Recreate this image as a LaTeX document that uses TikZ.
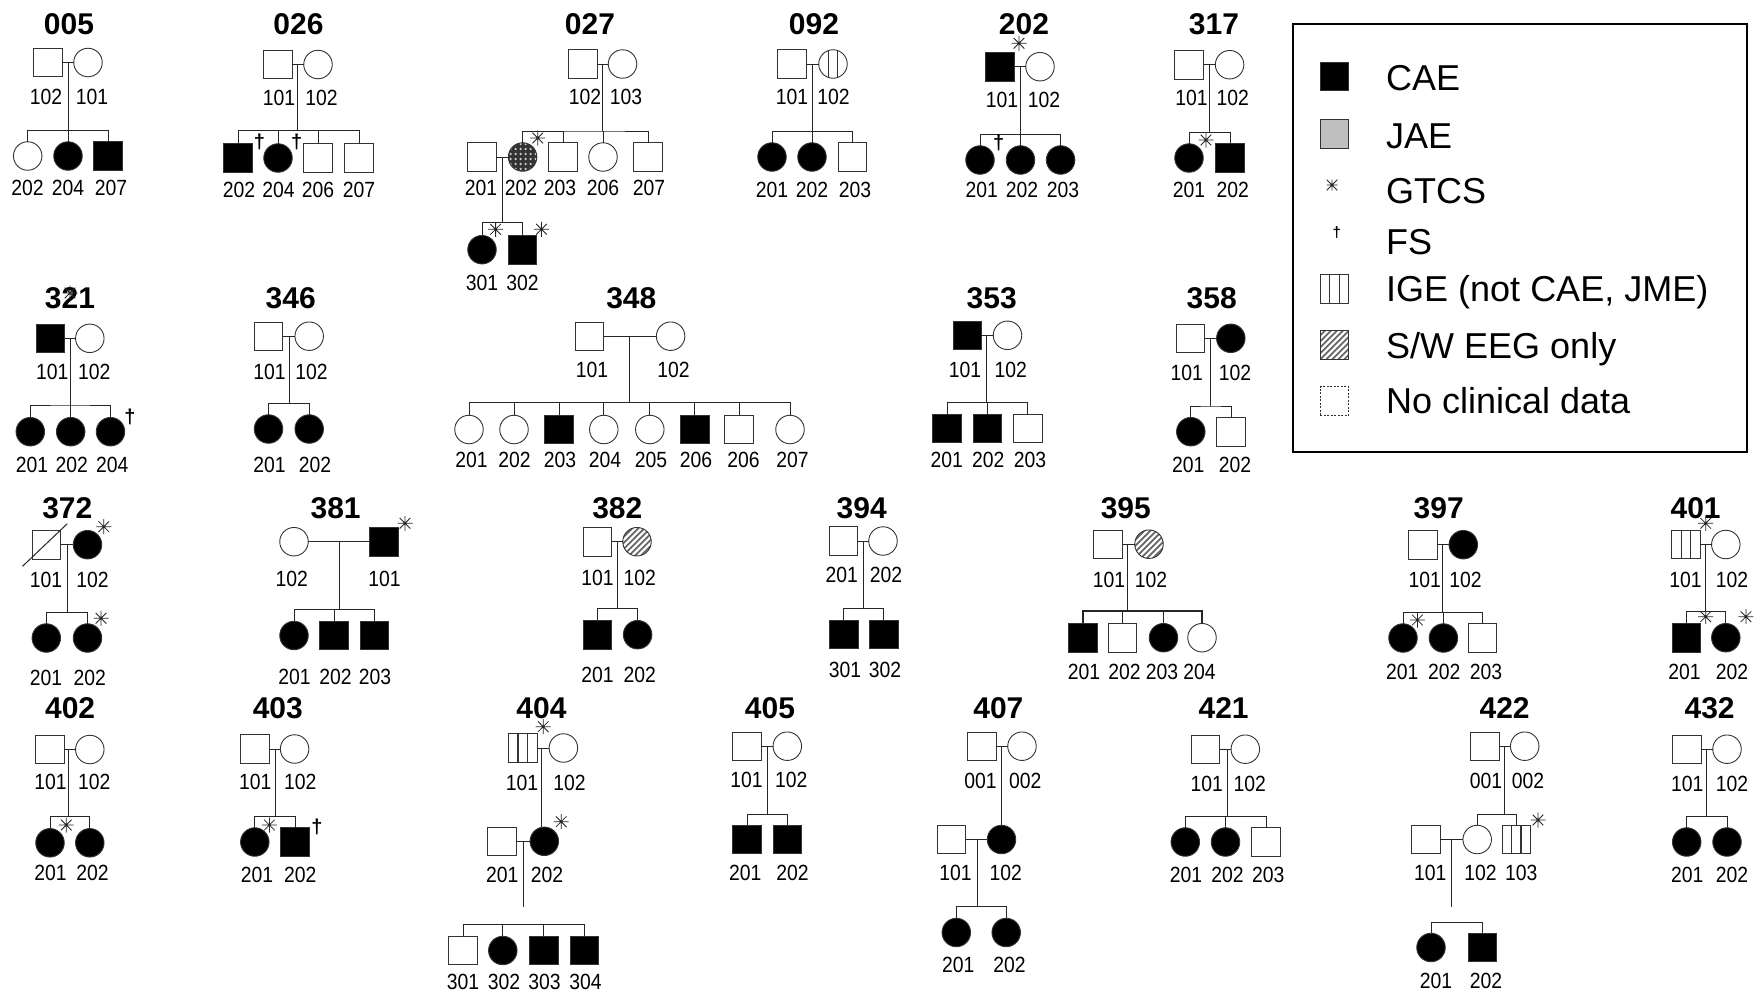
\documentclass[tikz,border=0pt]{standalone}
\usepackage{fontspec}
\setmainfont{Liberation Sans}
\newfontfamily\lblf{Liberation Sans}[FakeStretch=0.88]
\begin{document}
\newcounter{auto}
\tikzset{
 ind/.style={draw=black!80, line width=0.9pt, fill=white, inner sep=0pt, outer sep=0pt},
 sq/.style={ind, rectangle, minimum width=28.5pt, minimum height=28.5pt},
 ci/.style={ind, circle, minimum size=28.5pt},
 aff/.style={fill=black},
 ige/.style={path picture={\foreach \k in {-4.75,4.75}{\draw[line width=1.4pt] ([xshift=\k pt]path picture bounding box.north) -- ([xshift=\k pt]path picture bounding box.south);}}},
 sw/.style={path picture={\foreach \k in {-36,-30,...,36}{\draw[line width=1.8pt, black!60] ([xshift=\k pt]path picture bounding box.center) ++(-20pt,-20pt) -- ++(40pt,40pt);}}},
 dots/.style={fill=black!80, path picture={\foreach \i in {-12,-7,...,13}{\foreach \j in {-12,-7,...,13}{\fill[black!20] ([shift={(\i pt,\j pt)}]path picture bounding box.center) circle (1.3pt);}}}},
 lbl/.style={font=\lblf\fontsize{22}{22}\selectfont, inner sep=0pt},
 ttl/.style={font=\bfseries\fontsize{30}{30}\selectfont, inner sep=0pt},
 dag/.style={font=\bfseries\fontsize{20}{20}\selectfont, inner sep=0pt},
 ast/.style={inner sep=0pt, minimum size=15pt, path picture={\draw[line width=0.8pt, black!85] (path picture bounding box.north) -- (path picture bounding box.south) (path picture bounding box.west) -- (path picture bounding box.east) ([shift={(-5.3pt,-5.3pt)}]path picture bounding box.center) -- ([shift={(5.3pt,5.3pt)}]path picture bounding box.center) ([shift={(-5.3pt,5.3pt)}]path picture bounding box.center) -- ([shift={(5.3pt,-5.3pt)}]path picture bounding box.center);}},
 ln/.style={line width=1pt, draw=black!85},
 leg/.style={font=\fontsize{36}{36}\selectfont, inner sep=0pt, anchor=base west},
}
\newcommand\Tt[3]{\stepcounter{auto}\node[ttl] (t\arabic{auto}) at (#2,#3) {#1};}
\newcommand\Lb[3]{\stepcounter{auto}\node[lbl] (l\arabic{auto}) at (#1,#2) {#3};}
\newcommand\Ast[2]{\stepcounter{auto}\node[ast] (a\arabic{auto}) at (#1,#2) {};}
\newcommand\Dag[2]{\stepcounter{auto}\node[dag] (d\arabic{auto}) at (#1,#2) {†};}
\newcommand\Ma[4]{\node[sq,#4] (#1) at (#2,#3) {};}
\newcommand\Fe[4]{\node[ci,#4] (#1) at (#2,#3) {};}
\newcommand\Mar[2]{\draw[ln] (#1) -- (#2);}
\newcommand\Down[4]{\coordinate (#1) at (#2,#3); \draw[ln] (#1 |- #4) -- (#1);}
\newcommand\Sib[3]{\draw[ln] (#2.north) |- (#1) -| (#3.north);}
\newcommand\Dr[2]{\draw[ln] (#2.north) -- (#2.north |- #1);}
\begin{tikzpicture}[x=1pt,y=-1pt]
\fill[white] (0,0) rectangle (1756,991);
\useasboundingbox (0,0) rectangle (1756,991);
% ---------- 005
\Tt{005}{69}{24}
\Ma{p5a}{48}{62.5}{} \Fe{p5b}{88}{62.5}{} \Mar{p5a}{p5b}
\Down{s5}{68.1}{130.7}{p5a}
\Lb{46}{96.7}{102} \Lb{92}{96.7}{101}
\Fe{p5c}{27.7}{156}{} \Fe{p5d}{68}{156}{aff} \Ma{p5e}{108}{156}{aff}
\Sib{s5}{p5c}{p5e} \Dr{s5}{p5d}
\Lb{27.6}{188}{202} \Lb{68}{188}{204} \Lb{111}{188}{207}
% ---------- 026
\Tt{026}{298.5}{24}
\Ma{p26a}{278}{64.5}{} \Fe{p26b}{318}{64.5}{} \Mar{p26a}{p26b}
\Down{s26}{297.7}{130.7}{p26a}
\Lb{279}{98.3}{101} \Lb{321.5}{98.3}{102}
\Ma{p26c}{238}{158}{aff} \Fe{p26d}{278}{158}{aff} \Ma{p26e}{318}{158}{} \Ma{p26f}{359}{158}{}
\Sib{s26}{p26c}{p26f} \Dr{s26}{p26d} \Dr{s26}{p26e}
\Dag{259.5}{141.7} \Dag{296.6}{141.7}
\Lb{239}{190}{202} \Lb{278.6}{190}{204} \Lb{318}{190}{206} \Lb{359}{190}{207}
% ---------- 027
\Tt{027}{590}{24}
\Ma{p27a}{583}{64}{} \Fe{p27b}{622.5}{64}{} \Mar{p27a}{p27b}
\Down{s27}{602.3}{131}{p27a}
\Lb{585}{96.7}{102} \Lb{626}{96.7}{103}
\Ma{p27c}{482}{157}{} \Fe{p27d}{522.6}{157}{dots} \Ma{p27e}{563}{157}{} \Fe{p27f}{603}{157}{} \Ma{p27g}{648}{157}{}
\Sib{s27}{p27d}{p27g} \Dr{s27}{p27e} \Dr{s27}{p27f}
\Mar{p27c}{p27d}
\Ast{537.7}{138}
\Down{s27b}{502.5}{222.7}{p27c}
\Lb{481}{188}{201} \Lb{521}{188}{202} \Lb{560}{188}{203} \Lb{603}{188}{206} \Lb{649}{188}{207}
\Fe{p27h}{482}{249.7}{aff} \Ma{p27i}{522.6}{249.7}{aff}
\Sib{s27b}{p27h}{p27i}
\Ast{495.6}{229.3} \Ast{541.5}{229.3}
\Lb{482}{283}{301} \Lb{522.4}{283}{302}
% ---------- 092
\Tt{092}{814}{24}
\Ma{p92a}{792}{64}{} \Fe{p92b}{833}{64}{ige} \Mar{p92a}{p92b}
\Down{s92}{812}{131.7}{p92a}
\Lb{792}{96.7}{101} \Lb{833.6}{96.7}{102}
\Fe{p92c}{772}{157}{aff} \Fe{p92d}{812}{157}{aff} \Ma{p92e}{852.3}{157}{}
\Sib{s92}{p92c}{p92e} \Dr{s92}{p92d}
\Lb{772}{190}{201} \Lb{812}{190}{202} \Lb{855}{190}{203}
% ---------- 202
\Tt{202}{1024}{24}
\Ma{p202a}{1000}{66.7}{aff} \Fe{p202b}{1040}{66.7}{} \Mar{p202a}{p202b}
\Ast{1019}{43.3}
\Down{s202}{1020.6}{134.3}{p202a}
\Lb{1002}{100}{101} \Lb{1044}{100}{102}
\Fe{p202c}{980}{160}{aff} \Fe{p202d}{1020.5}{160}{aff} \Fe{p202e}{1060.6}{160}{aff}
\Sib{s202}{p202c}{p202e} \Dr{s202}{p202d}
\Dag{998.7}{143.3}
\Lb{981.8}{190}{201} \Lb{1022}{190}{202} \Lb{1063}{190}{203}
% ---------- 317
\Tt{317}{1214}{24}
\Ma{p317a}{1189}{64.7}{} \Fe{p317b}{1229.6}{64.7}{} \Mar{p317a}{p317b}
\Down{s317}{1209.5}{132.7}{p317a}
\Lb{1191.6}{98.3}{101} \Lb{1232.7}{98.3}{102}
\Fe{p317c}{1189}{158}{aff} \Ma{p317d}{1230}{158}{aff}
\Sib{s317}{p317c}{p317d}
\Ast{1206}{140}
\Lb{1189}{190}{201} \Lb{1232.7}{190}{202}
% ---------- 321
\Tt{321}{70}{298.3} \Ast{70}{293}
\Ma{p321a}{50.5}{338.3}{aff} \Fe{p321b}{89.8}{338.3}{} \Mar{p321a}{p321b}
\Down{s321}{70.1}{405}{p321a}
\Lb{52.2}{371.7}{101} \Lb{94.3}{371.7}{102}
\Fe{p321c}{30.3}{431.7}{aff} \Fe{p321d}{70.7}{431.7}{aff} \Fe{p321e}{110.5}{431.7}{aff}
\Sib{s321}{p321c}{p321e} \Dr{s321}{p321d}
\Dag{130}{416.7}
\Lb{32}{465}{201} \Lb{71.8}{465}{202} \Lb{112.2}{465}{204}
% ---------- 346
\Tt{346}{290.7}{298.3}
\Ma{p346a}{268.5}{336.2}{} \Fe{p346b}{309.2}{336.2}{} \Mar{p346a}{p346b}
\Down{s346}{289}{403.3}{p346a}
\Lb{269.4}{371.7}{101} \Lb{311.4}{371.7}{102}
\Fe{p346c}{268.5}{429}{aff} \Fe{p346d}{309.2}{429}{aff}
\Sib{s346}{p346c}{p346d}
\Lb{269.4}{465}{201} \Lb{315}{465}{202}
% ---------- 348
\Tt{348}{631.3}{298.3}
\Ma{p348a}{589.2}{336.2}{} \Fe{p348b}{670.6}{336.2}{} \Mar{p348a}{p348b}
\Down{s348}{629.6}{402.7}{p348a}
\Lb{592}{370}{101} \Lb{673.4}{370}{102}
\Fe{p348c}{469}{429.5}{} \Fe{p348d}{514}{429.5}{} \Ma{p348e}{559}{429.5}{aff} \Fe{p348f}{603.8}{429.5}{}
\Fe{p348g}{649.8}{429.5}{} \Ma{p348h}{694.7}{429.5}{aff} \Ma{p348i}{739}{429.5}{} \Fe{p348j}{790}{429.5}{}
\Sib{s348}{p348c}{p348j} \Dr{s348}{p348d} \Dr{s348}{p348e} \Dr{s348}{p348f} \Dr{s348}{p348g} \Dr{s348}{p348h} \Dr{s348}{p348i}
\Lb{471.4}{460}{201} \Lb{514.6}{460}{202} \Lb{560}{460}{203} \Lb{605}{460}{204} \Lb{651}{460}{205} \Lb{696}{460}{206} \Lb{743.5}{460}{206} \Lb{792.4}{460}{207}
% ---------- 353
\Tt{353}{991.7}{298.3}
\Ma{p353a}{967.2}{335.3}{aff} \Fe{p353b}{1007.5}{335.3}{} \Mar{p353a}{p353b}
\Down{s353}{986.7}{402.7}{p353a}
\Lb{965}{370}{101} \Lb{1010.7}{370}{102}
\Ma{p353c}{947}{428.3}{aff} \Ma{p353d}{987.2}{428.3}{aff} \Ma{p353e}{1027.8}{428.3}{}
\Sib{s353}{p353c}{p353e} \Dr{s353}{p353d}
\Lb{946.7}{460}{201} \Lb{988.3}{460}{202} \Lb{1030}{460}{203}
% ---------- 358
\Tt{358}{1211.7}{298.3}
\Ma{p358a}{1190.5}{338.3}{} \Fe{p358b}{1230.8}{338.3}{aff} \Mar{p358a}{p358b}
\Down{s358}{1210.7}{406}{p358a}
\Lb{1186.7}{373.3}{101} \Lb{1235}{373.3}{102}
\Fe{p358c}{1190.8}{431.7}{aff} \Ma{p358d}{1231}{431.7}{}
\Sib{s358}{p358c}{p358d}
\Lb{1188.3}{465}{201} \Lb{1235}{465}{202}
% ---------- 372
\Tt{372}{67.3}{508.3}
\Ma{p372a}{46.3}{544.7}{} \Fe{p372b}{87.5}{544.7}{aff} \Mar{p372a}{p372b}
\draw[ln] ([shift={(-9.6pt,-7.4pt)}]p372a.south west) -- ([shift={(6.7pt,6.7pt)}]p372a.north east);
\Ast{103.8}{526.7}
\Down{s372}{67.3}{612.7}{p372a}
\Lb{46}{580}{101} \Lb{92.6}{580}{102}
\Fe{p372c}{46.3}{638}{aff} \Fe{p372d}{87.5}{638}{aff}
\Sib{s372}{p372c}{p372d}
\Ast{101}{618.3}
\Lb{46}{678.3}{201} \Lb{89.8}{678.3}{202}
% ---------- 381
\Tt{381}{335.6}{508.3}
\Fe{p381a}{294}{541.7}{} \Ma{p381b}{383.8}{541.7}{aff} \Mar{p381a}{p381b}
\Ast{405}{523.3}
\Down{s381}{339.5}{609.3}{p381a}
\Lb{291.8}{579.3}{102} \Lb{384.4}{579.3}{101}
\Fe{p381c}{294}{635.5}{aff} \Ma{p381d}{334}{635.5}{aff} \Ma{p381e}{374.6}{635.5}{aff}
\Sib{s381}{p381c}{p381e} \Dr{s381}{p381d}
\Lb{294.6}{676.7}{201} \Lb{335.5}{676.7}{202} \Lb{375}{676.7}{203}
% ---------- 382
\Tt{382}{617.3}{508.3}
\Ma{p382a}{597.6}{541.7}{} \Fe{p382b}{637}{541.7}{sw} \Mar{p382a}{p382b}
\Down{s382}{617.3}{608.3}{p382a}
\Lb{597.6}{578.3}{101} \Lb{639.7}{578.3}{102}
\Ma{p382c}{597.6}{634.7}{aff} \Fe{p382d}{637.6}{634.7}{aff}
\Sib{s382}{p382c}{p382d}
\Lb{597.6}{675}{201} \Lb{639.7}{675}{202}
% ---------- 394
\Tt{394}{861.7}{508.3}
\Ma{p394a}{843.3}{541}{} \Fe{p394b}{883}{541}{} \Mar{p394a}{p394b}
\Down{s394}{863.3}{608.3}{p394a}
\Lb{841.7}{575}{201} \Lb{886}{575}{202}
\Ma{p394c}{843.8}{634.3}{aff} \Ma{p394d}{883.8}{634.3}{aff}
\Sib{s394}{p394c}{p394d}
\Lb{845}{670}{301} \Lb{885}{670}{302}
% ---------- 395
\Tt{395}{1125.8}{508.3}
\Ma{p395a}{1107.7}{544.2}{} \Fe{p395b}{1149}{544.2}{sw} \Mar{p395a}{p395b}
\Down{s395}{1127.5}{610.7}{p395a}
\Lb{1109}{580}{101} \Lb{1151}{580}{102}
\Ma{p395c}{1083}{637.7}{aff} \Ma{p395d}{1122.6}{637.7}{} \Fe{p395e}{1163.5}{637.7}{aff} \Fe{p395f}{1202}{637.7}{}
\draw[ln, line width=2pt] (p395c.north) |- (s395) -| (p395f.north);
\Dr{s395}{p395d} \Dr{s395}{p395e}
\Lb{1084}{671.7}{201} \Lb{1124.5}{671.7}{202} \Lb{1162}{671.7}{203} \Lb{1199.5}{671.7}{204}
% ---------- 397
\Tt{397}{1438.7}{508.3}
\Ma{p397a}{1422.8}{544.7}{} \Fe{p397b}{1463.3}{544.7}{aff} \Mar{p397a}{p397b}
\Down{s397}{1442.6}{612.7}{p397a}
\Lb{1424.7}{580}{101} \Lb{1465.5}{580}{102}
\Fe{p397c}{1403}{638}{aff} \Fe{p397d}{1443.4}{638}{aff} \Ma{p397e}{1482.5}{638}{}
\Sib{s397}{p397c}{p397e} \Dr{s397}{p397d}
\Ast{1417.4}{620}
\Lb{1402.3}{671.7}{201} \Lb{1444.2}{671.7}{202} \Lb{1486}{671.7}{203}
% ---------- 401
\Tt{401}{1695.6}{508.3}
\Ma{p401a}{1686}{544.5}{ige} \Fe{p401b}{1725.8}{544.5}{} \Mar{p401a}{p401b}
\Ast{1705.7}{523.3}
\Down{s401}{1705.7}{611.7}{p401a}
\Lb{1685.6}{580}{101} \Lb{1732}{580}{102}
\Ma{p401c}{1686.6}{637.7}{aff} \Fe{p401d}{1725.8}{637.7}{aff}
\Sib{s401}{p401c}{p401d}
\Ast{1705.7}{616.7} \Ast{1745.9}{616.7}
\Lb{1684.5}{671.7}{201} \Lb{1732}{671.7}{202}
% ---------- 402
\Tt{402}{70.1}{708.3}
\Ma{p402a}{50}{749.5}{} \Fe{p402b}{89.8}{749.5}{} \Mar{p402a}{p402b}
\Down{s402}{68.5}{816.7}{p402a}
\Lb{50.5}{781.7}{101} \Lb{94.3}{781.7}{102}
\Fe{p402c}{50}{842.8}{aff} \Fe{p402d}{89.8}{842.8}{aff}
\Sib{s402}{p402c}{p402d}
\Ast{66.2}{825}
\Lb{50.5}{873.3}{201} \Lb{92.6}{873.3}{202}
% ---------- 403
\Tt{403}{277.8}{708.3}
\Ma{p403a}{254.8}{749}{} \Fe{p403b}{294.6}{749}{} \Mar{p403a}{p403b}
\Down{s403}{275}{816.7}{p403a}
\Lb{255.3}{781.7}{101} \Lb{300.2}{781.7}{102}
\Fe{p403c}{254.8}{842}{aff} \Ma{p403d}{295}{842}{aff}
\Sib{s403}{p403c}{p403d}
\Ast{269.4}{825} \Dag{317}{826.7}
\Lb{257}{875}{201} \Lb{300.2}{875}{202}
% ---------- 404
\Tt{404}{541.5}{708.3}
\Ma{p404a}{522.7}{748}{ige} \Fe{p404b}{563.4}{748}{} \Mar{p404a}{p404b}
\Ast{543.2}{726.7}
\Ma{p404c}{501.7}{841.3}{} \Fe{p404d}{544.3}{841.3}{aff} \Mar{p404c}{p404d}
\coordinate (s404) at (541.5,800);
\draw[ln] (s404 |- p404a) -- (s404 |- p404d.north);
\Lb{521.9}{783.3}{101} \Lb{569.6}{783.3}{102}
\Ast{561.2}{821.7}
\Down{e404}{523}{906.7}{p404c}
\Lb{502.2}{875}{201} \Lb{547}{875}{202}
\coordinate (s404b) at (523,924.3);
\Ma{p404e}{463}{950.5}{} \Fe{p404f}{502.8}{950.5}{aff} \Ma{p404g}{543.8}{950.5}{aff} \Ma{p404h}{584.2}{950.5}{aff}
\Sib{s404b}{p404e}{p404h} \Dr{s404b}{p404f} \Dr{s404b}{p404g}
\Lb{463}{982}{301} \Lb{504}{982}{302} \Lb{544.5}{982}{303} \Lb{585.4}{982}{304}
% ---------- 405
\Tt{405}{770}{708.3}
\Ma{p405a}{747}{746.2}{} \Fe{p405b}{787.3}{746.2}{} \Mar{p405a}{p405b}
\Down{s405}{767.7}{814}{p405a}
\Lb{746.4}{780}{101} \Lb{791.2}{780}{102}
\Ma{p405c}{747}{839.5}{aff} \Ma{p405d}{787.3}{839.5}{aff}
\Sib{s405}{p405c}{p405d}
\Lb{745.2}{873.3}{201} \Lb{792.4}{873.3}{202}
% ---------- 407
\Tt{407}{998.4}{708.3}
\Ma{p407a}{982}{746.2}{} \Fe{p407b}{1022}{746.2}{} \Mar{p407a}{p407b}
\Ma{p407c}{951.3}{839.5}{} \Fe{p407d}{1001.5}{839.5}{aff} \Mar{p407c}{p407d}
\coordinate (s407) at (1001.8,800);
\draw[ln] (s407 |- p407a) -- (s407 |- p407d.north);
\Lb{980.6}{780.7}{001} \Lb{1025.3}{780.7}{002}
\Down{s407b}{977.8}{906.7}{p407c}
\Lb{955.4}{873.3}{101} \Lb{1005.7}{873.3}{102}
\Fe{p407e}{956.3}{932.5}{aff} \Fe{p407f}{1006.2}{932.5}{aff}
\Sib{s407b}{p407e}{p407f}
\Lb{958.2}{965}{201} \Lb{1009.6}{965}{202}
% ---------- 421
\Tt{421}{1223.6}{708.3}
\Ma{p421a}{1205.5}{749.2}{} \Fe{p421b}{1245.3}{749.2}{} \Mar{p421a}{p421b}
\Down{s421}{1227.5}{816.7}{p421a}
\Lb{1206.8}{784}{101} \Lb{1249.8}{784}{102}
\Fe{p421c}{1185.3}{842}{aff} \Fe{p421d}{1225.5}{842}{aff} \Ma{p421e}{1266}{842}{}
\Sib{s421}{p421c}{p421e} \Dr{s421}{p421d}
\Lb{1186.1}{875}{201} \Lb{1227.5}{875}{202} \Lb{1268.3}{875}{203}
% ---------- 422
\Tt{422}{1504.6}{708.3}
\Ma{p422a}{1484.7}{746.2}{} \Fe{p422b}{1524.7}{746.2}{} \Mar{p422a}{p422b}
\Down{s422}{1504.6}{814}{p422a}
\Lb{1486.1}{780.7}{001} \Lb{1528}{780.7}{002}
\Ma{p422c}{1426}{839.5}{} \Fe{p422d}{1477.2}{839.5}{} \Ma{p422e}{1516.3}{839.5}{ige}
\Sib{s422}{p422d}{p422e}
\Ast{1538}{820}
\Mar{p422c}{p422d}
\Down{e422}{1451}{906.7}{p422c}
\Lb{1430.3}{873.3}{101} \Lb{1480.6}{873.3}{102} \Lb{1521.3}{873.3}{103}
\coordinate (s422b) at (1451,922.3);
\Fe{p422f}{1431}{947.5}{aff} \Ma{p422g}{1482.5}{947.5}{aff}
\Sib{s422b}{p422f}{p422g}
\Lb{1435.9}{981}{201} \Lb{1486.1}{981}{202}
% ---------- 432
\Tt{432}{1709.6}{708.3}
\Ma{p432a}{1686.7}{749.2}{} \Fe{p432b}{1727}{749.2}{} \Mar{p432a}{p432b}
\Down{s432}{1706.8}{816.7}{p432a}
\Lb{1687.3}{784}{101} \Lb{1732}{784}{102}
\Fe{p432c}{1686.7}{842}{aff} \Fe{p432d}{1727}{842}{aff}
\Sib{s432}{p432c}{p432d}
\Lb{1687.3}{875}{201} \Lb{1732}{875}{202}
% ---------- legend
\node[draw, line width=1.8pt, minimum width=454.3pt, minimum height=427.4pt, anchor=north west, inner sep=0pt] (legend) at (1291.7,23.3) {};
\node[sq,aff] (k1) at (1334.5,76.5) {};
\node[sq,fill=black!25] (k2) at (1334.5,134) {};
\node[ast, minimum size=11pt] (k3) at (1332,185) {};
\node[font=\bfseries\fontsize{15}{15}\selectfont, inner sep=0pt] (k4) at (1336.7,233) {†};
\node[sq,ige] (k5) at (1334.5,289) {};
\node[sq,sw] (k6) at (1334.5,345) {};
\node[sq,line width=0.6pt,dash pattern=on 2pt off 1.5pt] (k7) at (1334.5,401) {};
\node[leg] (k1t) at (1386,90) {CAE};
\node[leg] (k2t) at (1386,148.3) {JAE};
\node[leg] (k3t) at (1386,203.3) {GTCS};
\node[leg] (k4t) at (1386,254) {FS};
\node[leg] (k5t) at (1386,301.7) {IGE (not CAE, JME)};
\node[leg] (k6t) at (1386,358.3) {S/W EEG only};
\node[leg] (k7t) at (1386,413.3) {No clinical data};
\end{tikzpicture}
\end{document}
